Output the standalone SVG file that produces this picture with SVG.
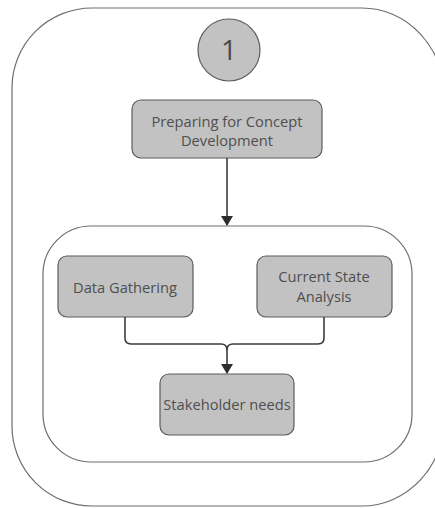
<svg xmlns="http://www.w3.org/2000/svg" width="435" height="508" viewBox="0 0 435 508" overflow="hidden">
  <style>
    .frame { fill: none; stroke: #6e6e6e; stroke-width: 1.2; }
    .box { fill: #c2c2c2; stroke: #5c5c5c; stroke-width: 1.2; }
    .label { font-family: "Open Sans", "Liberation Sans", sans-serif; font-size: 14.7px; fill: #4f4f4f; text-anchor: middle; }
    .wire { fill: none; stroke: #3c3c3c; stroke-width: 1.6; }
  </style>
  <defs>
    <marker id="arrow" viewBox="0 0 10 12" refX="9" refY="6" markerWidth="10" markerHeight="12" markerUnits="userSpaceOnUse" orient="auto">
      <path d="M0,0 L10,6 L0,12 z" fill="#2e2e2e"/>
    </marker>
    <clipPath id="page">
      <rect x="0" y="0" width="435" height="508"/>
    </clipPath>
  </defs>
  <rect width="435" height="508" fill="#ffffff"/>

  <!-- outer phase frame; its right side runs past the page edge -->
  <path id="phase-frame" class="frame" clip-path="url(#page)" d="M92,8 H362 A83,90 0 0 1 445,98 V416 A83,90 0 0 1 362,506 H92 A80,80 0 0 1 12,426 V88 A80,80 0 0 1 92,8 Z"/>

  <!-- inner group frame -->
  <rect id="group-frame" class="frame" x="43" y="226" width="369" height="236" rx="48" ry="48"/>

  <g id="phase-number">
    <circle class="box" cx="229" cy="50" r="31"/>
    <text x="229" y="60" style="font-family: 'Open Sans', 'Liberation Sans', sans-serif; font-size: 28px; fill: #4a4a4a; text-anchor: middle;">1</text>
  </g>

  <g id="preparing">
    <rect class="box" x="132" y="100" width="190" height="58" rx="9" ry="9"/>
    <text class="label" x="227" y="127">Preparing for Concept</text>
    <text class="label" x="227" y="146">Development</text>
  </g>

  <g id="data-gathering">
    <rect class="box" x="58" y="256" width="135" height="61" rx="9" ry="9"/>
    <text class="label" x="125" y="293">Data Gathering</text>
  </g>

  <g id="current-state">
    <rect class="box" x="257" y="256" width="135" height="61" rx="9" ry="9"/>
    <text class="label" x="324" y="282">Current State</text>
    <text class="label" x="324" y="302">Analysis</text>
  </g>

  <g id="stakeholder-needs">
    <rect class="box" x="160" y="374" width="134" height="61" rx="9" ry="9"/>
    <text class="label" x="227" y="410">Stakeholder needs</text>
  </g>

  <g id="connectors">
    <path class="wire" d="M227,158 V225" marker-end="url(#arrow)"/>
    <path class="wire" d="M125,317 V338 Q125,344 131,344 H221 Q227,344 227,350 V373" marker-end="url(#arrow)"/>
    <path class="wire" d="M324,317 V338 Q324,344 318,344 H233 Q227,344 227,350"/>
  </g>
</svg>
